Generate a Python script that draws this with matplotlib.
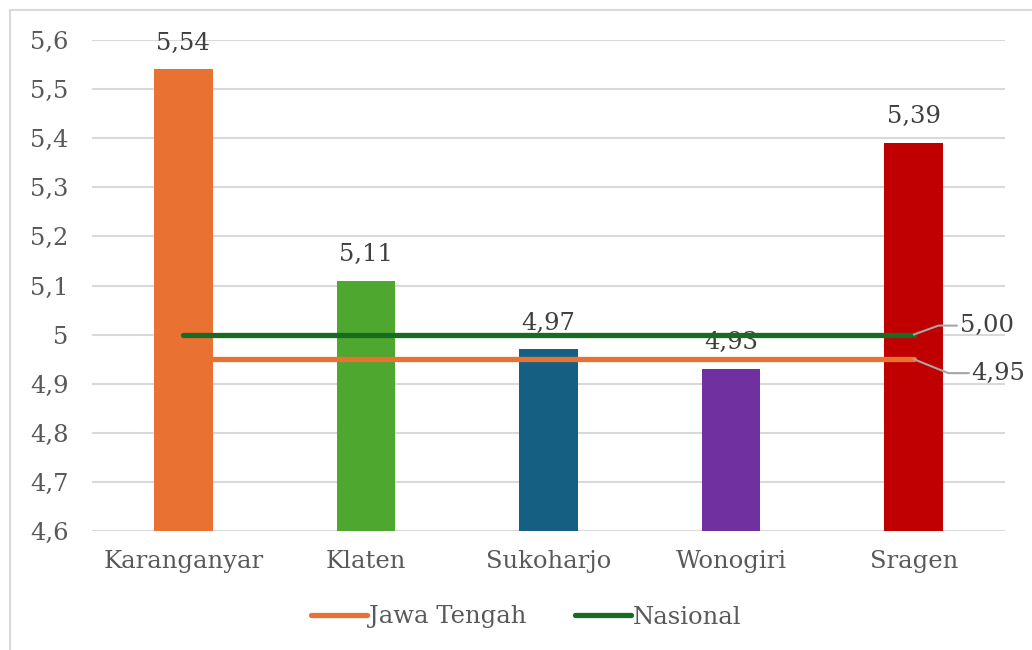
import matplotlib.pyplot as plt
from matplotlib.patches import Rectangle

categories = ['Karanganyar', 'Klaten', 'Sukoharjo', 'Wonogiri', 'Sragen']
values = [5.54, 5.11, 4.97, 4.93, 5.39]
bar_colors = ['#E97132', '#4EA72E', '#156082', '#7030A0', '#C00000']
jawa_tengah = [4.95, 4.95, 4.95, 4.95, 4.95]
nasional = [5.00, 5.00, 5.00, 5.00, 5.00]
yticks = [4.6, 4.7, 4.8, 4.9, 5.0, 5.1, 5.2, 5.3, 5.4, 5.5, 5.6]
ytick_labels = ['4,6', '4,7', '4,8', '4,9', '5', '5,1', '5,2', '5,3', '5,4', '5,5', '5,6']

txt = '#595959'
fs = 17.5
plt.rcParams['font.family'] = ['DejaVu Serif']

fig = plt.figure(figsize=(10.32, 6.5), dpi=100)
W, H = 1032, 650
fig.patches.append(Rectangle((10 / W, -0.1), 1.1, 1 - 10 / H + 0.1, transform=fig.transFigure,
                             fill=False, ec='#D9D9D9', lw=1.5))
ax = fig.add_axes([92 / W, 1 - 531 / H, (1005 - 92) / W, (531 - 40) / H])

x = range(len(categories))
ax.bar(x, [v - 4.6 for v in values], bottom=4.6, width=0.32, color=bar_colors, zorder=2)
for xi, v in zip(x, values):
    ax.text(xi, v + 0.03, f'{v:.2f}'.replace('.', ','), ha='center', va='bottom',
            fontsize=fs, color='#404040')

ax.plot(x, jawa_tengah, color='#E97132', lw=3.8, solid_capstyle='round', zorder=3, label='Jawa Tengah')
ax.plot(x, nasional, color='#196B24', lw=3.8, solid_capstyle='round', zorder=3, label='Nasional')

# end labels with leader lines
last = len(categories) - 1
ax.annotate(f'{nasional[-1]:.2f}'.replace('.', ','), xy=(last, nasional[-1]), xytext=(46, 9),
            textcoords='offset pixels', fontsize=fs, color='#404040', va='center',
            arrowprops=dict(arrowstyle='-', color='#A6A6A6', lw=1.5,
                            connectionstyle='angle,angleA=0,angleB=20,rad=0', shrinkA=0, shrinkB=0,
                            relpos=(0, 0.5)))
ax.annotate(f'{jawa_tengah[-1]:.2f}'.replace('.', ','), xy=(last, jawa_tengah[-1]), xytext=(58, -14),
            textcoords='offset pixels', fontsize=fs, color='#404040', va='center',
            arrowprops=dict(arrowstyle='-', color='#A6A6A6', lw=1.5,
                            connectionstyle='angle,angleA=0,angleB=-22,rad=0', shrinkA=0, shrinkB=0,
                            relpos=(0, 0.5)))

ax.set_ylim(4.6, 5.6)
ax.set_xlim(-0.5, len(categories) - 0.5)
ax.set_yticks(yticks)
ax.set_yticklabels(ytick_labels)
ax.set_xticks(list(x))
ax.set_xticklabels(categories)
ax.tick_params(axis='both', length=0, labelsize=fs, labelcolor=txt)
ax.tick_params(axis='y', pad=17)
ax.tick_params(axis='x', pad=14)
ax.grid(axis='y', color='#D9D9D9', lw=1.5, zorder=0)
ax.set_axisbelow(True)
for s in ax.spines.values():
    s.set_visible(False)

leg = fig.legend(loc='center', bbox_to_anchor=(0.51, 1 - 617 / H), ncol=2, frameon=False,
                 fontsize=fs, handlelength=2.3, handletextpad=0.1, columnspacing=2.0)
for t in leg.get_texts():
    t.set_color(txt)

fig.savefig('out.png', dpi=100)
